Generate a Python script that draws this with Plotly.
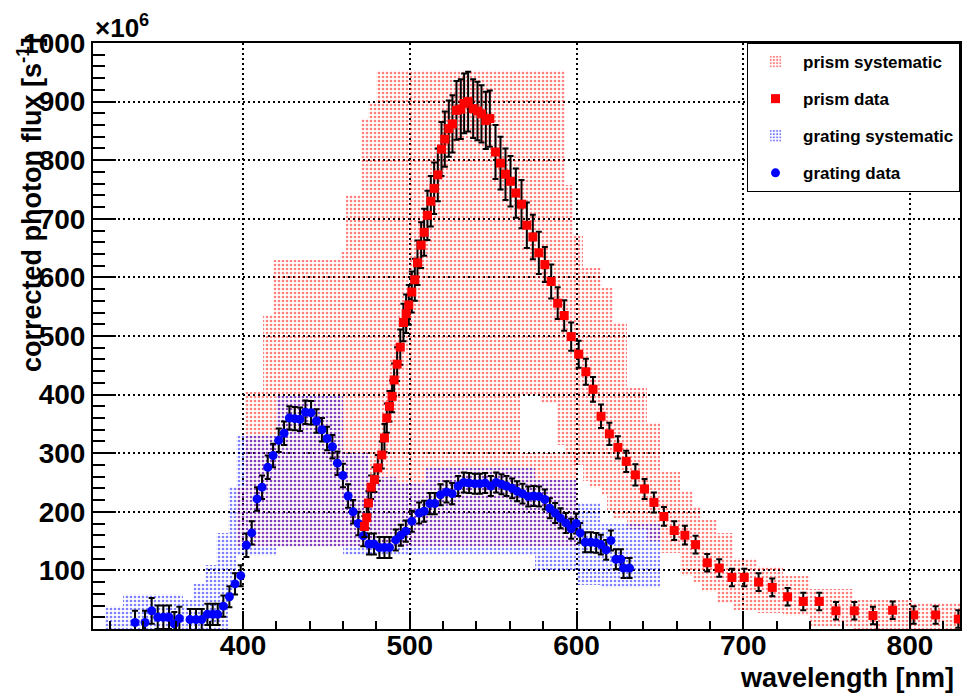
import plotly.graph_objects as go

# ---------------- data ----------------
prism_wl = [472.8, 474.2, 475.2, 476.8, 478.8, 480.8, 483.2, 484.8, 486.2, 487.8, 489.4, 490.6,
            492.4, 494.3, 496.2, 497.8, 499.4, 501.2, 503.0, 504.6, 506.8, 508.6, 510.6, 512.6,
            514.6, 516.8, 519.0, 521.0, 523.4, 525.6, 528.0, 530.6, 532.6, 535.0, 538.0, 540.6,
            543.0, 545.6, 548.0, 551.4, 554.4, 557.4, 560.4, 563.6, 567.0, 570.2, 573.8, 577.4,
            581.0, 584.8, 588.7, 592.6, 596.8, 601.3, 605.6, 609.9, 614.7, 619.7, 624.8, 629.8,
            635.3, 640.8, 646.4, 652.4, 658.6, 665.0, 671.4, 678.4, 685.6, 693.2, 700.6, 709.2,
            717.4, 726.6, 736.0, 745.6, 755.6, 766.6, 777.8, 789.6, 802.2, 815.4, 829.0]
prism_flux = [175, 190, 215, 242, 255, 275, 297, 326, 360, 380, 397, 425,
              452, 481, 523, 538, 553, 575, 596, 625, 655, 677, 706, 730,
              752, 775, 819, 836, 854, 862, 885, 887, 897, 900, 888, 884,
              879, 868, 871, 814, 795, 776, 764, 744, 725, 689, 669, 642,
              622, 593, 556, 535, 499, 469, 439, 409, 363, 333, 310, 286,
              263, 239, 216, 192, 168, 160, 144, 113, 104, 88, 88, 80,
              71, 55, 47, 47, 31, 31, 23, 32, 24, 24, 17]
prism_err = [18, 18, 20, 20, 21, 22, 23, 24, 25, 26, 27, 28,
             29, 30, 32, 33, 34, 35, 36, 38, 39, 40, 42, 43,
             44, 45, 46, 47, 48, 49, 50, 51, 51, 51, 50, 50,
             49, 49, 48, 46, 45, 44, 43, 42, 41, 39, 38, 36,
             30, 29, 27, 26, 24, 23, 22, 21, 20, 19, 19, 18,
             18, 17, 17, 16, 16, 16, 15, 15, 15, 15, 15, 15,
             15, 15, 15, 15, 15, 15, 15, 15, 15, 15, 15]

grating_wl = [335.2, 341.2, 345.2, 348.8, 352.2, 355.6, 358.8, 361.8, 368.2, 371.8, 375.2, 378.6,
              381.8, 384.8, 388.2, 391.8, 395.2, 398.6, 402.0, 405.2, 408.4, 411.4, 414.8, 418.0,
              421.4, 424.6, 427.8, 431.0, 434.2, 437.4, 440.8, 444.0, 447.3, 450.4, 453.6, 456.6,
              459.9, 463.0, 466.0, 469.1, 472.1, 475.5, 478.5, 481.8, 484.8, 487.8, 491.6, 494.6,
              497.6, 501.2, 505.6, 508.6, 512.0, 515.0, 518.4, 522.0, 525.4, 529.0, 532.4, 535.6,
              539.0, 542.0, 545.2, 548.6, 551.8, 555.0, 558.0, 561.4, 564.4, 567.6, 571.0, 574.4,
              577.6, 581.0, 584.0, 587.2, 590.4, 593.6, 596.8, 599.8, 602.2, 605.2, 608.6, 611.8,
              614.6, 617.8, 620.6, 623.6, 626.6, 628.2, 631.8]
grating_flux = [11, 11, 31, 20, 20, 20, 9, 18, 16, 16, 16, 25,
                25, 25, 39, 55, 77, 91, 143, 164, 222, 242, 276, 296,
                322, 334, 360, 359, 358, 370, 369, 355, 340, 325, 311, 283,
                262, 227, 200, 180, 159, 145, 145, 139, 139, 139, 152, 160,
                167, 184, 198, 201, 214, 214, 229, 234, 231, 244, 250, 249,
                248, 248, 249, 244, 250, 247, 244, 240, 235, 231, 226, 227,
                226, 221, 206, 198, 189, 181, 171, 180, 164, 148, 148, 147,
                144, 135, 151, 119, 119, 104, 104]
grating_err = [20, 20, 22, 20, 20, 20, 20, 20, 18, 18, 18, 18,
               18, 18, 18, 18, 18, 18, 20, 20, 20, 20, 20, 20,
               20, 20, 20, 20, 20, 20, 20, 20, 20, 20, 20, 20,
               20, 20, 20, 20, 18, 18, 18, 18, 18, 18, 18, 18,
               18, 18, 18, 18, 18, 18, 18, 18, 18, 17, 17, 17,
               17, 17, 17, 17, 17, 17, 17, 17, 17, 17, 17, 17,
               17, 17, 17, 17, 17, 17, 17, 17, 17, 17, 17, 17,
               17, 17, 17, 17, 17, 17, 17]

# systematic bands: rectangles [x0, x1] x [low, high]
prism_sys_x0 = [396, 401, 412, 418, 458, 462, 471, 475, 480, 552, 552, 566, 578, 588, 593, 598, 604, 608,
                615, 618, 622, 630, 642, 650, 662, 670, 675, 684, 694, 708, 724, 740, 766, 802]
prism_sys_x1 = [401, 412, 418, 458, 462, 471, 475, 480, 552, 600, 566, 578, 588, 593, 598, 604, 608, 615,
                618, 622, 630, 642, 650, 662, 670, 675, 684, 694, 708, 724, 740, 766, 802, 830]
prism_sys_lo = [141, 141, 141, 141, 141, 141, 141, 141, 141, 141, 300, 400, 386, 314, 300, 280, 252, 240,
                229, 200, 190, 170, 150, 130, 90, 80, 64, 44, 33, 28, 22, 5, 0, 0]
prism_sys_hi = [243, 405, 536, 630, 643, 740, 872, 900, 954, 300, 954, 954, 954, 954, 757, 672, 616, 616,
                582, 582, 524, 411, 353, 268, 235, 210, 186, 164, 121, 107, 90, 68, 50, 45]

grating_sys_x0 = [317, 328, 364, 370, 377, 384, 391, 396, 420, 460, 475, 492, 510, 575, 600, 614]
grating_sys_x1 = [328, 364, 370, 377, 384, 391, 396, 420, 460, 475, 492, 510, 575, 600, 614, 650]
grating_sys_lo = [0, 0, 0, 0, 0, 0, 60, 124, 140, 127, 127, 127, 127, 100, 75, 70]
grating_sys_hi = [39, 59, 50, 76, 110, 164, 243, 330, 398, 300, 260, 250, 275, 255, 215, 180]

x_ticks = [400, 500, 600, 700, 800]
y_ticks = [100, 200, 300, 400, 500, 600, 700, 800, 900, 1000]

FONT = "Liberation Sans, Arial, Helvetica, sans-serif"


def band(x0, x1, lo, hi, color, name, rank):
    return go.Bar(
        x=[(a + b) / 2 for a, b in zip(x0, x1)],
        width=[b - a for a, b in zip(x0, x1)],
        base=lo,
        y=[h - l for l, h in zip(lo, hi)],
        name=name,
        legendrank=rank,
        legendgroup=name,
        marker=dict(color="rgba(0,0,0,0)", line=dict(width=0),
                    pattern=dict(shape=".", fgcolor=color, bgcolor="rgba(0,0,0,0)",
                                 size=4, solidity=0.33, fillmode="overlay")),
        hoverinfo="skip",
    )


fig = go.Figure()
fig.add_trace(band(prism_sys_x0, prism_sys_x1, prism_sys_lo, prism_sys_hi, "red", "prism systematic", 1))
fig.add_trace(band(grating_sys_x0, grating_sys_x1, grating_sys_lo, grating_sys_hi, "blue", "grating systematic", 3))

fig.add_trace(go.Scatter(
    x=grating_wl, y=grating_flux, mode="markers", name="grating data", legendrank=4, legendgroup="gd",
    marker=dict(symbol="circle", size=9, color="blue"),
    error_y=dict(type="data", array=grating_err, color="black", thickness=2, width=3),
))
fig.add_trace(go.Scatter(
    x=prism_wl, y=prism_flux, mode="markers", name="prism data", legendrank=2, legendgroup="pd",
    marker=dict(symbol="square", size=9, color="red"),
    error_y=dict(type="data", array=prism_err, color="black", thickness=2, width=3),
))

axis_common = dict(
    showline=True, linewidth=2, linecolor="black", mirror=True,
    ticks="inside", tickwidth=2, tickcolor="black",
    showgrid=True, gridcolor="black", gridwidth=1.5, griddash="2px,3px",
    zeroline=False, automargin=False,
    tickfont=dict(family=FONT, size=28, color="black", weight="bold"),
)

# the page body adds an 8 px offset, so margins are shifted to keep the frame in place
fig.update_layout(
    width=979, height=694,
    margin=dict(l=85, r=27, t=35, b=73, autoexpand=False),
    plot_bgcolor="white", paper_bgcolor="white",
    barmode="overlay", bargap=0,
    font=dict(family=FONT, color="black"),
    xaxis=dict(range=[310, 830], tickmode="array", tickvals=x_ticks, ticklen=18,
               ticklabelstandoff=-10,
               minor=dict(tickmode="linear", tick0=0, dtick=20, ticks="inside", ticklen=8,
                          tickwidth=2, tickcolor="black", showgrid=False),
               **axis_common),
    yaxis=dict(range=[0, 1000], tickmode="array", tickvals=y_ticks, ticklen=23,
               minor=dict(tickmode="linear", tick0=0, dtick=20, ticks="inside", ticklen=12,
                          tickwidth=2, tickcolor="black", showgrid=False),
               **axis_common),
    legend=dict(x=1, xanchor="right", y=1, yanchor="top", bgcolor="white",
                bordercolor="black", borderwidth=1, tracegroupgap=12, itemwidth=45,
                font=dict(family=FONT, size=17, color="black", weight="bold")),
    annotations=[
        dict(text="wavelength [nm]", xref="paper", yref="paper", x=1, y=-0.083,
             xanchor="right", yanchor="middle", showarrow=False, xshift=-4,
             font=dict(family=FONT, size=27, color="black", weight="bold")),
        dict(text="corrected photon flux [s<sup>-1</sup>]", xref="paper", yref="paper",
             x=-0.073, y=1.014, xanchor="center", yanchor="top", textangle=-90, showarrow=False,
             font=dict(family=FONT, size=27, color="black", weight="bold")),
        dict(text="×10<sup>6</sup>", xref="paper", yref="paper", x=0, y=0.996,
             xanchor="left", yanchor="bottom", showarrow=False,
             font=dict(family=FONT, size=26, color="black", weight="bold")),
    ],
)

fig.write_html("out.html")
